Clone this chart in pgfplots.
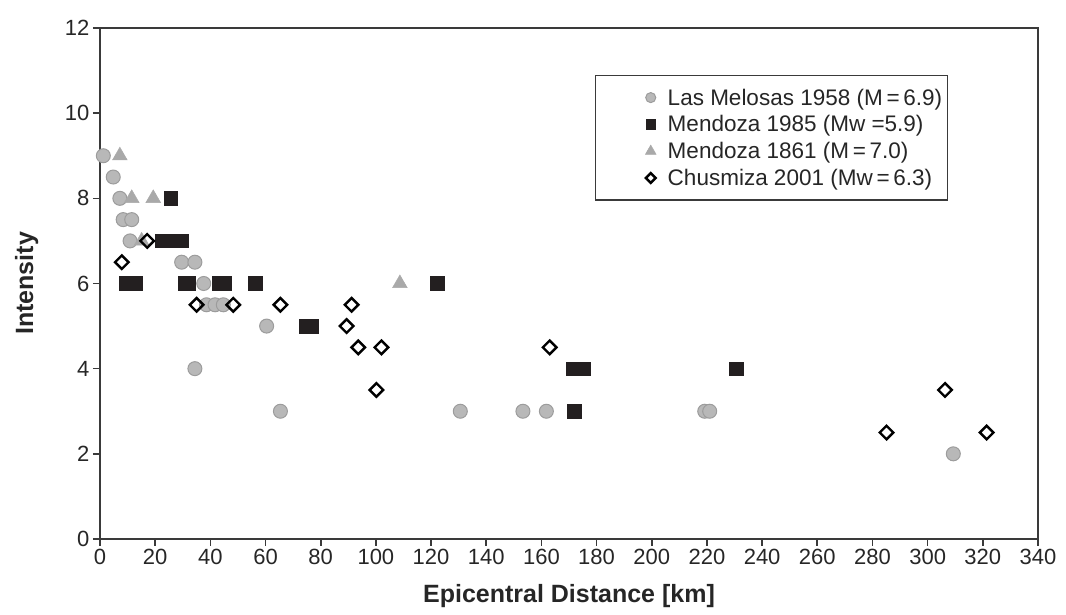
\documentclass[border=0pt]{standalone}
\usepackage{fontspec}
\setmainfont{Liberation Sans}
\usepackage{pgfplots}
\pgfplotsset{compat=1.18}
\definecolor{circfill}{HTML}{B8B8B8}
\definecolor{circdraw}{HTML}{9C9C9C}
\definecolor{trifill}{HTML}{A9A9A9}
\definecolor{sqfill}{HTML}{231F20}
\definecolor{axcol}{HTML}{3A3A3A}
\begin{document}
\begin{tikzpicture}
\path[use as bounding box] (-100pt,-76pt) rectangle (966pt,539pt);
\begin{axis}[
  scale only axis, width=938pt, height=511pt,
  xmin=0, xmax=340, ymin=0, ymax=12,
  xtick={0,20,...,340}, ytick={0,2,...,12},
  tick align=outside, tick pos=left,
  major tick length=7pt,
  axis line style={axcol, line width=1.6pt},
  every tick/.style={axcol, line width=1.6pt},
  /pgf/number format/assume math mode=true,
  ticklabel style={font=\fontsize{22}{25}\selectfont, text=black!85},
  xlabel={\bfseries Epicentral Distance [km]},
  ylabel={\bfseries Intensity},
  label style={font=\fontsize{25}{28}\selectfont, text=black!85},
  xlabel style={at={(axis description cs:0.5,-0.1233)}, anchor=base},
  ylabel style={at={(axis description cs:-0.0714,0.5)}, anchor=base},
  clip=false,
  legend cell align=left,
  legend style={at={(axis description cs:0.904,0.908)}, anchor=north east,
    draw=axcol, line width=1.4pt, font=\fontsize{22.5}{26}\selectfont,
    inner xsep=3pt, inner ysep=11pt, row sep=5pt, text=black!85},
  legend image code/.code={\path[draw=none,fill=none] (0pt,-5pt) rectangle (67pt,5pt);
    \draw[#1, every mark/.append style={scale=0.72}] plot coordinates {(52pt,0pt)};},
]
\addplot[only marks, mark=*, mark size=7pt, mark options={fill=circfill, draw=circdraw, line width=1pt}]
coordinates {(1.2,9) (4.8,8.5) (7.2,8) (8.4,7.5) (11.5,7.5) (10.9,7) (29.6,6.5) (34.4,6.5)
 (37.6,6) (38.6,5.5) (41.7,5.5) (44.7,5.5) (60.4,5) (34.4,4) (65.4,3) (130.6,3) (153.3,3)
 (161.8,3) (219.2,3) (221,3) (309.3,2)};
\addlegendentry{Las Melosas 1958 (M\,=\,6.9)}
\addplot[only marks, mark=square*, mark size=6.8pt, mark options={fill=sqfill, draw=sqfill, line width=0.5pt}]
coordinates {(25.6,8) (22.5,7) (26,7) (29.5,7) (9.5,6) (13,6) (31,6) (32,6) (43,6) (45,6)
 (56.2,6) (74.6,5) (76.8,5) (122.2,6) (171.5,4) (175.3,4) (172,3) (230.6,4)};
\addlegendentry{Mendoza 1985 (Mw =5.9)}
\addplot[only marks, mark=triangle*, mark size=8.5pt, mark options={fill=trifill, draw=trifill, line width=0.5pt}]
coordinates {(7.2,9) (11.5,8) (19.3,8) (15.1,7) (108.7,6)};
\addlegendentry{Mendoza 1861 (M\,=\,7.0)}
\addplot[only marks, mark=square, mark size=4.8pt, mark options={rotate=45, fill=white, draw=black, line width=2.4pt}]
coordinates {(7.9,6.5) (17.1,7) (35,5.5) (48.3,5.5) (65.4,5.5) (91.2,5.5) (89.4,5) (93.6,4.5)
 (102,4.5) (100.2,3.5) (163,4.5) (306.3,3.5) (285.1,2.5) (321.4,2.5)};
\addlegendentry{Chusmiza 2001 (Mw\,=\,6.3)}
\end{axis}
\end{tikzpicture}
\end{document}
